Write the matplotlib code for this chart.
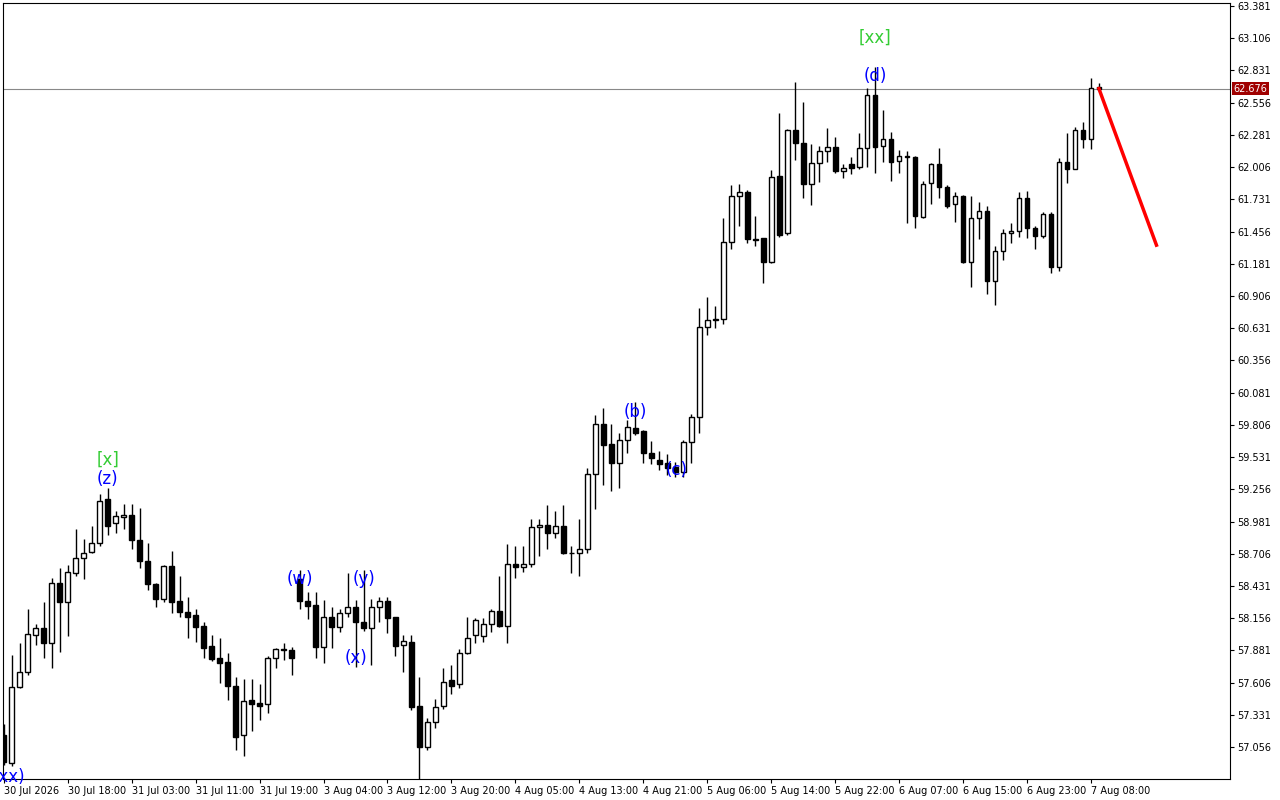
import matplotlib
matplotlib.use('Agg')
import matplotlib.pyplot as plt
import numpy as np

# hourly candles
opens = [57.16, 56.92, 57.57, 57.70, 58.01, 58.07, 57.94, 58.46, 58.29, 58.54,
         58.67, 58.72, 58.80, 59.17, 58.97, 59.02, 59.04, 58.82, 58.64, 58.45,
         58.32, 58.60, 58.30, 58.21, 58.18, 58.09, 57.92, 57.82, 57.78, 57.58,
         57.16, 57.46, 57.43, 57.42, 57.82, 57.88, 57.88, 58.49, 58.30, 58.27,
         57.91, 58.17, 58.08, 58.20, 58.25, 58.12, 58.07, 58.25, 58.30, 58.17,
         57.93, 57.95, 57.41, 57.06, 57.27, 57.41, 57.63, 57.59, 57.86, 58.01,
         58.00, 58.11, 58.22, 58.09, 58.62, 58.59, 58.62, 58.93, 58.95, 58.88,
         58.94, 58.71, 58.71, 58.75, 59.39, 59.81, 59.64, 59.48, 59.68, 59.78,
         59.75, 59.57, 59.51, 59.48, 59.45, 59.40, 59.66, 59.87, 60.64, 60.70,
         60.71, 61.37, 61.76, 61.79, 61.39, 61.40, 61.20, 61.93, 61.44, 62.32,
         62.21, 61.86, 62.04, 62.14, 62.18, 61.97, 62.03, 62.01, 62.17, 62.62,
         62.19, 62.25, 62.06, 62.10, 62.09, 61.58, 61.87, 62.03, 61.84, 61.69,
         61.76, 61.20, 61.57, 61.63, 61.03, 61.29, 61.44, 61.46, 61.74, 61.49,
         61.42, 61.61, 61.15, 62.05, 61.99, 62.32, 62.25, 62.69]
highs = [57.25, 57.84, 57.94, 58.23, 58.11, 58.29, 58.50, 58.58, 58.61, 58.92,
         58.83, 58.94, 59.22, 59.27, 59.07, 59.13, 59.13, 59.10, 58.80, 58.46,
         58.61, 58.73, 58.52, 58.34, 58.23, 58.12, 58.01, 57.99, 57.86, 57.65,
         57.64, 57.64, 57.59, 57.83, 57.90, 57.94, 57.91, 58.57, 58.38, 58.38,
         58.31, 58.25, 58.23, 58.54, 58.31, 58.57, 58.32, 58.34, 58.34, 58.17,
         58.01, 58.01, 57.65, 57.30, 57.47, 57.73, 57.76, 57.89, 58.17, 58.16,
         58.16, 58.23, 58.52, 58.79, 58.77, 58.77, 59.00, 59.00, 59.12, 59.07,
         59.12, 58.77, 59.00, 59.44, 59.89, 59.95, 59.81, 59.74, 59.85, 60.00,
         59.76, 59.67, 59.58, 59.56, 59.49, 59.68, 59.90, 60.80, 60.90, 60.82,
         61.57, 61.85, 61.86, 61.81, 61.59, 61.40, 61.98, 62.47, 62.33, 62.73,
         62.56, 62.20, 62.19, 62.34, 62.26, 62.03, 62.09, 62.30, 62.68, 62.86,
         62.49, 62.31, 62.15, 62.14, 62.10, 61.89, 62.04, 62.17, 61.85, 61.79,
         61.77, 61.76, 61.71, 61.67, 61.33, 61.48, 61.53, 61.79, 61.80, 61.50,
         61.62, 61.62, 62.08, 62.30, 62.35, 62.39, 62.77, 62.72]
lows = [56.90, 56.89, 57.56, 57.67, 57.93, 57.82, 57.73, 57.87, 58.00, 58.52,
        58.49, 58.71, 58.77, 58.87, 58.88, 58.92, 58.75, 58.58, 58.40, 58.25,
        58.29, 58.20, 58.17, 57.99, 57.95, 57.82, 57.79, 57.60, 57.46, 57.03,
        56.98, 57.19, 57.29, 57.35, 57.73, 57.80, 57.67, 58.23, 58.15, 57.82,
        57.77, 57.90, 58.04, 58.17, 57.74, 58.05, 57.76, 58.12, 58.03, 57.83,
        57.70, 57.37, 56.77, 57.03, 57.22, 57.38, 57.51, 57.56, 57.85, 57.94,
        57.95, 58.04, 58.08, 57.94, 58.50, 58.55, 58.59, 58.69, 58.75, 58.84,
        58.70, 58.54, 58.52, 58.71, 59.09, 59.29, 59.24, 59.27, 59.57, 59.72,
        59.48, 59.47, 59.42, 59.38, 59.36, 59.36, 59.48, 59.74, 60.57, 60.63,
        60.67, 61.31, 61.50, 61.36, 61.33, 61.02, 61.19, 61.41, 61.43, 62.07,
        61.74, 61.68, 61.88, 62.05, 61.96, 61.91, 61.95, 61.99, 62.01, 61.96,
        62.05, 61.89, 61.96, 61.53, 61.49, 61.57, 61.69, 61.74, 61.66, 61.54,
        61.19, 60.98, 61.39, 60.92, 60.83, 61.21, 61.36, 61.41, 61.40, 61.31,
        61.40, 61.10, 61.12, 61.87, 61.99, 62.17, 62.16, 62.66]
closes = [56.93, 57.57, 57.70, 58.02, 58.07, 57.94, 58.46, 58.29, 58.55, 58.67,
          58.71, 58.80, 59.16, 58.94, 59.03, 59.04, 58.82, 58.64, 58.45, 58.32,
          58.60, 58.29, 58.21, 58.17, 58.08, 57.90, 57.81, 57.77, 57.58, 57.14,
          57.45, 57.42, 57.41, 57.82, 57.89, 57.89, 57.82, 58.30, 58.26, 57.91,
          58.17, 58.08, 58.20, 58.25, 58.12, 58.07, 58.25, 58.30, 58.16, 57.92,
          57.96, 57.40, 57.06, 57.27, 57.40, 57.61, 57.58, 57.86, 57.99, 58.14,
          58.11, 58.22, 58.09, 58.62, 58.59, 58.62, 58.93, 58.95, 58.88, 58.94,
          58.71, 58.71, 58.75, 59.39, 59.81, 59.63, 59.48, 59.68, 59.79, 59.74,
          59.57, 59.52, 59.47, 59.44, 59.40, 59.66, 59.87, 60.64, 60.70, 60.71,
          61.37, 61.76, 61.79, 61.39, 61.38, 61.20, 61.92, 61.43, 62.32, 62.21,
          61.86, 62.04, 62.14, 62.18, 61.97, 62.00, 62.00, 62.17, 62.62, 62.18,
          62.25, 62.05, 62.10, 62.09, 61.59, 61.86, 62.03, 61.84, 61.67, 61.76,
          61.20, 61.57, 61.63, 61.03, 61.29, 61.44, 61.46, 61.74, 61.49, 61.42,
          61.61, 61.15, 62.05, 61.99, 62.32, 62.25, 62.68, 62.676]

current_price = 62.676
forecast_end = (144.2, 61.34)

# wave labels: (candle index, price, text, colour)
wave_labels = [
    (13, 59.51, '[x]', '#33cc33'), (13, 59.34, '(z)', 'blue'),
    (0.6, 56.80, '(xx)', 'blue'),
    (37, 58.49, '(w)', 'blue'), (44, 57.82, '(x)', 'blue'), (45, 58.49, '(y)', 'blue'),
    (79, 59.92, '(b)', 'blue'), (84.2, 59.42, '(c)', 'blue'),
    (109, 62.78, '(d)', 'blue'), (109, 63.11, '[xx]', '#33cc33'),
]

time_labels = ['30 Jul 2026', '30 Jul 18:00', '31 Jul 03:00', '31 Jul 11:00', '31 Jul 19:00',
               '3 Aug 04:00', '3 Aug 12:00', '3 Aug 20:00', '4 Aug 05:00', '4 Aug 13:00',
               '4 Aug 21:00', '5 Aug 06:00', '5 Aug 14:00', '5 Aug 22:00', '6 Aug 07:00',
               '6 Aug 15:00', '6 Aug 23:00', '7 Aug 08:00']
price_ticks = np.round(63.381 - 0.275 * np.arange(24), 3)

fig = plt.figure(figsize=(12.8, 8), dpi=100)
ax = fig.add_axes([3 / 1280, 21 / 800, 1227 / 1280, 776 / 800])

idx = np.arange(len(opens))
o = np.array(opens); c = np.array(closes)
ax.vlines(idx, lows, highs, color='black', linewidth=1, zorder=1)
bottom = np.minimum(o, c)
height = np.maximum(np.abs(c - o), 0.004)
face = np.where(c >= o, 'white', 'black')
ax.bar(idx, height, bottom=bottom, width=0.6, color=face, edgecolor='black', linewidth=1, zorder=2)

ax.axhline(current_price, color='#888888', linewidth=0.8, zorder=0)
ax.plot([idx[-1], forecast_end[0]], [current_price, forecast_end[1]], color='red', linewidth=2.5, zorder=3)

for xi, yi, txt, col in wave_labels:
    ax.text(xi, yi, txt, color=col, fontsize=12, ha='center', va='center', zorder=4)

ax.set_xlim(-0.1, 153.4)
ax.set_ylim(56.783, 63.407)
ax.set_xticks(np.arange(len(time_labels)) * 8)
ax.set_xticklabels(time_labels, fontsize=7, ha='left')
ax.yaxis.tick_right()
ax.set_yticks(price_ticks)
ax.set_yticklabels([f'{p:.3f}' for p in price_ticks], fontsize=7)
ax.tick_params(length=3, pad=2)
ax.text(1.003, current_price, f'{current_price:.3f}', transform=ax.get_yaxis_transform(),
        fontsize=7, color='white', va='center', ha='left',
        bbox=dict(boxstyle='square,pad=0.15', fc='#a00000', ec='none'))
for s in ax.spines.values():
    s.set_linewidth(0.8)

fig.savefig('out.png', dpi=100)
